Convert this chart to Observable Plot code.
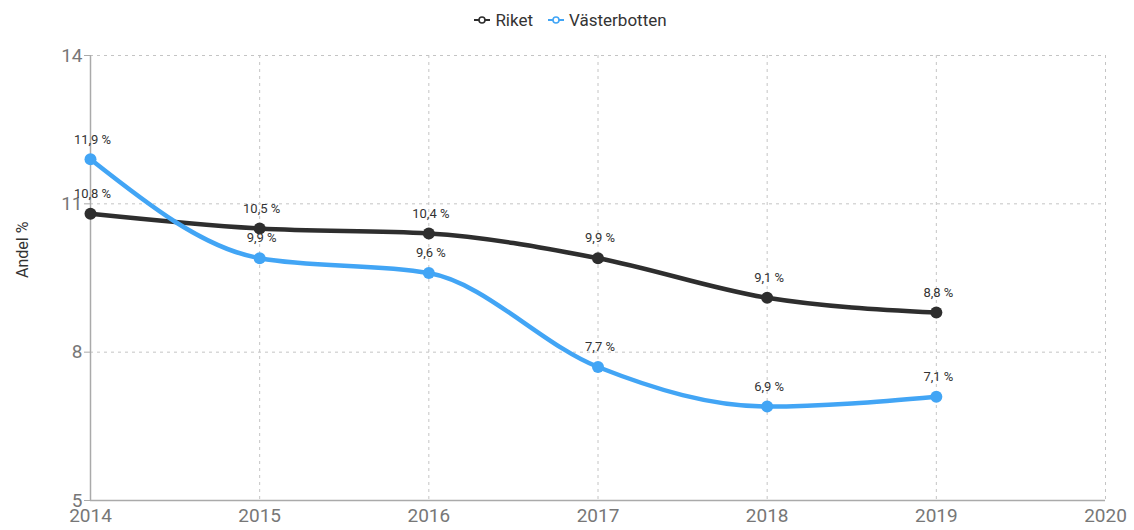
<!DOCTYPE html>
<html>
<head>
<meta charset="utf-8">
<script src="https://cdn.jsdelivr.net/npm/d3@7"></script>
<script src="https://cdn.jsdelivr.net/npm/@observablehq/plot@0.6"></script>
<style>
  body { margin: 0; background: #fff; font-family: Roboto, "Noto Sans", sans-serif; }
  #legend { height: 40px; display: flex; justify-content: center; align-items: center; gap: 14px; font-size: 17px; color: #333; padding-left: 6px; box-sizing: border-box; }
  #legend .item { display: flex; align-items: center; gap: 4px; }
</style>
</head>
<body>
<div id="legend"></div>
<div id="chart"></div>
<script>
const years = [2014, 2015, 2016, 2017, 2018, 2019];
const riket = [10.8, 10.5, 10.4, 9.9, 9.1, 8.8];
const vasterbotten = [11.9, 9.9, 9.6, 7.7, 6.9, 7.1];
const seriesNames = ["Riket", "Västerbotten"];
const seriesColors = ["#2e2e2e", "#42a5f5"];
const yTicks = [5, 8, 11, 14];
const xTicks = [2014, 2015, 2016, 2017, 2018, 2019, 2020];

const data = [];
years.forEach((y, i) => {
  data.push({year: y, value: riket[i], series: seriesNames[0]});
  data.push({year: y, value: vasterbotten[i], series: seriesNames[1]});
});

// Legend
const legend = document.getElementById("legend");
seriesNames.forEach((name, i) => {
  const item = document.createElement("div");
  item.className = "item";
  item.innerHTML = `<svg width="18" height="10"><line x1="1" y1="5" x2="17" y2="5" stroke="${seriesColors[i]}" stroke-width="2"/><circle cx="9" cy="5" r="3" fill="#fff" stroke="${seriesColors[i]}" stroke-width="1.6"/></svg><span>${name}</span>`;
  legend.appendChild(item);
});

const fmt = v => v.toFixed(1).replace(".", ",") + " %";

const chart = Plot.plot({
  width: 1134,
  height: 490,
  marginLeft: 90,
  marginRight: 29,
  marginTop: 15,
  marginBottom: 30,
  style: {fontFamily: "Roboto, 'Noto Sans', sans-serif", background: "#fff"},
  x: {domain: [2014, 2020], ticks: xTicks, tickFormat: "d", label: null},
  y: {domain: [5, 14], ticks: yTicks, label: null},
  color: {domain: seriesNames, range: seriesColors},
  marks: [
    Plot.gridY(yTicks.filter(t => t > 5), {stroke: "#c4c4c4", strokeOpacity: 1, strokeDasharray: "3,4", strokeWidth: 1}),
    Plot.gridX(xTicks.slice(1), {stroke: "#c4c4c4", strokeOpacity: 1, strokeDasharray: "3,4", strokeWidth: 1}),
    Plot.ruleX([2014], {stroke: "#aaa", strokeWidth: 1.5}),
    Plot.ruleY([5], {stroke: "#aaa", strokeWidth: 1.5}),
    Plot.axisY({ticks: yTicks, tickSize: 6, tickPadding: 2, fontSize: 19, color: "#777", stroke: "#aaa", label: null}),
    Plot.axisX({ticks: xTicks, tickFormat: "d", tickSize: 0, tickPadding: 8, fontSize: 19, color: "#777", label: null}),
    Plot.text(["Andel %"], {frameAnchor: "left", dx: -68, rotate: -90, fontSize: 16, fill: "#333"}),
    Plot.line(data, {x: "year", y: "value", stroke: "series", strokeWidth: 4.5, curve: "monotone-x"}),
    Plot.dot(data, {x: "year", y: "value", fill: "series", r: 6}),
    Plot.text(data, {x: "year", y: "value", text: d => fmt(d.value), dy: -20, dx: 2, fontSize: 13, fill: "#333"})
  ]
});
document.getElementById("chart").appendChild(chart);
</script>
</body>
</html>
